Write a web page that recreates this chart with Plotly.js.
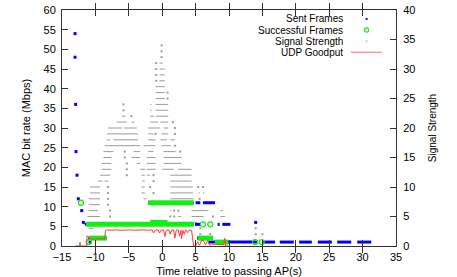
<!DOCTYPE html>
<html><head><meta charset="utf-8">
<script src="https://cdn.plot.ly/plotly-3.0.1.min.js"></script>
<style>html,body{margin:0;padding:0;background:#fff}</style>
</head><body><div id="chart" style="width:457px;height:277px"></div>
<script>
// ---------- Sent Frames (Mbps) ----------
const sentDotT = [-13.05,-13.05,-12.96,-12.9,-12.75,-12.56,-12.05,-11.8,-10.8,14.0];
const sentDotV = [54,48,36,24,18,12,9,6,1,6];
const sentSegStart = [-11.6,4.9,8.3,9.0,-2.1,5.0,6.1,-11.1,5.2,6.9,15.1,17.6,20.5,23.3,26.2,29.2];
const sentSegEnd   = [4.7,5.7,8.6,10.2,4.7,5.7,7.9,-8.3,7.6,14.3,16.9,19.7,22.4,25.4,28.3,31.3];
const sentSegRate  = [5.5,5.5,5.5,5.5,11,11,11,2,2,1,1,1,1,1,1,1];

// ---------- Successful Frames (Mbps) ----------
const succDotT = [-12.16,-11.0,6.1,7.2,13.9,14.9];
const succDotV = [11,1,5.5,5.5,1,1];
const succSegStart = [-11.4,-1.8,-2.1,-11.0,5.3,7.9];
const succSegEnd   = [4.7,0.8,4.7,-8.3,7.6,9.9];
const succSegRate  = [5.5,6,11,2,2,1];

// ---------- Signal Strength (right axis) ----------
const sigSegLevel = [31,30,29,28,27,26,25,
  24,24,23,23,22,22,22,
  21,21,21,21,20,20,20,20,
  19,19,19,18,18,18,18,18,
  17,17,17,16,16,16,16,15,15,15,15,
  14,14,14,14,13,13,13,13,13,
  12,12,12,12,11,11,11,11,
  10,10,10,9,9,9,9,9,8,8,8,7,7,
  6,6,6,6,5,5,5,5,4,4,3];
const sigSegStart = [-0.4,-0.4,-0.4,-0.4,-1.0,-1.0,-1.0,
  -1.8,-1.0,-1.8,-1.0,-6.0,-1.8,-1.0,
  -6.8,-4.6,-1.8,-0.3,-8.1,-5.7,-2.1,0.2,
  -8.3,-2.1,-0.1,-8.3,-7.3,-2.1,-0.3,1.2,
  -8.6,-2.8,-0.1,-8.8,-4.3,-2.1,0.2,-8.8,-4.6,-2.3,0.2,
  -9.1,-3.8,-2.3,0.2,-9.1,-3.3,-2.3,0.0,2.4,
  -9.3,-3.1,-2.3,1.2,-9.6,-8.6,-3.0,1.2,
  -10.8,-3.1,1.2,-10.8,-3.1,1.2,5.4,6.1,-11.0,-2.8,1.2,-11.0,1.2,
  -11.0,1.2,4.4,8.7,-11.2,2.4,4.4,8.7,-11.0,4.6,-11.0];
const sigSegEnd = [0.1,0.4,0.4,0.4,0.4,0.4,0.4,
  -1.6,0.9,-1.6,0.9,-5.5,-1.2,0.9,
  -5.3,-4.1,-0.6,0.9,-6.0,-3.8,-0.3,0.9,
  -3.6,-1.3,0.9,-7.8,-3.6,-1.0,0.7,1.9,
  -3.3,-1.0,1.3,-7.3,-3.3,-1.3,2.0,-7.6,-3.3,-1.0,2.9,
  -7.6,-3.3,-1.0,2.9,-7.6,-2.5,-1.0,1.7,4.4,
  -7.8,-2.6,-1.8,4.4,-8.9,-8.1,-2.6,4.4,
  -9.3,-2.6,4.6,-9.3,-2.6,4.6,5.6,6.3,-9.3,-2.3,4.6,-9.3,4.6,
  -9.6,1.4,6.9,9.1,-9.3,2.8,6.2,9.4,-10.0,5.2,-10.3];
const sigDotT = [-0.1,-0.1,-0.1,-0.9,-0.9,-0.9,-0.9,0.8,0.8,-5.8,-5.8,-4.6,1.6,1.9,-1.0,1.9,1.9,
  -5.6,2.7,-5.6,-5.3,-5.3,-5.3,-1.3,-1.3,-8.1,-1.8,5.4,6.1,-8.1,-1.3,-8.1,5.6,-8.1,-1.3,
  -7.8,1.8,2.4,-7.8,1.2,1.8,7.6,14.0,5.7,14.0,5.7,7.2,14.0,15.0];
const sigDotS = [34,33,32,31,30,29,28,26,25,24,23,22,21,20,19,19,17,
  16,16,15,14,13,12,12,11,10,10,10,10,9,9,8,8,7,7,
  6,6,6,5,5,5,5,4,3,3,2,2,2,2];

// ---------- UDP Goodput (Mbps) ----------
const gpT = [-13.0,-12.35,-12.3,-12.25,-11.3,-11.25,-11.0,-10.7,-10.4,-10.0,-9.5,-9.0,-8.6,-8.5,-8.3,-7.5,-7.0,-6.0,-5.0,-4.0,-3.0,-2.0,-1.5,-1.3,-1.1,-0.6,-0.4,-0.2,0.2,0.4,0.6,1.0,1.2,1.4,1.7,1.9,2.1,2.4,2.6,2.8,2.9,3.1,3.3,3.5,3.8,4.0,4.4,4.7,5.0,5.3,5.6,5.9,6.2,6.5,6.8,7.1,7.4,8.0,9.2,9.35,9.5,10.0];
const gpV = [0,0,0.9,0,0,2.6,2.1,1.8,1.6,1.8,1.9,1.8,1.9,3.9,4.1,4.0,4.1,4.0,4.1,4.0,4.1,4.0,4.1,3.3,4.0,4.1,3.3,4.0,4.1,2.4,4.0,4.1,3.0,4.0,4.1,2.0,4.0,4.1,2.5,4.0,1.9,4.0,3.0,4.1,3.4,4.0,4.0,0,0,1.1,0.2,1.5,1.3,0.3,1.4,0.2,0.5,0.4,0.3,2.0,0,0];

function segXY(s, e, v) {
  const x = [], y = [];
  for (let i = 0; i < s.length; i++) { x.push(s[i], e[i], null); y.push(v[i], v[i], null); }
  return {x, y};
}
const sigSeg = segXY(sigSegStart, sigSegEnd, sigSegLevel);
const sentSeg = segXY(sentSegStart, sentSegEnd, sentSegRate);
const succSeg = segXY(succSegStart, succSegEnd, succSegRate);

const GRAY = '#9c9c9c', BLUE = '#0000ff', GREEN = '#14ee14', RED = '#ff3a3a';
const FONT = 'Liberation Sans, Arial, sans-serif';

const traces = [
  {x: sigSeg.x, y: sigSeg.y, yaxis: 'y', mode: 'lines', line: {color: GRAY, width: 1}, showlegend: false, hoverinfo: 'skip'},
  {x: sigDotT, y: sigDotS, yaxis: 'y', mode: 'markers', marker: {color: GRAY, size: 2, symbol: 'square'}, name: 'Signal Strength', showlegend: false},
  {x: sentSeg.x, y: sentSeg.y, yaxis: 'y2', mode: 'lines', line: {color: BLUE, width: 3}, showlegend: false},
  {x: sentDotT, y: sentDotV, yaxis: 'y2', mode: 'markers', marker: {color: BLUE, size: 3, symbol: 'square'}, name: 'Sent Frames', showlegend: false},
  {x: succSeg.x, y: succSeg.y, yaxis: 'y2', mode: 'lines', line: {color: GREEN, width: 5}, showlegend: false},
  {x: succDotT, y: succDotV, yaxis: 'y2', mode: 'markers', marker: {color: GREEN, size: 5, symbol: 'circle-open', line: {width: 1.3, color: GREEN}}, name: 'Successful Frames', showlegend: false},
  {x: gpT, y: gpV, yaxis: 'y2', mode: 'lines', line: {color: RED, width: 1}, name: 'UDP Goodput', showlegend: false}
];

const axCommon = {ticks: 'inside', ticklen: 6, tickwidth: 1, tickcolor: '#333', showline: true, linecolor: '#333', linewidth: 1,
  showgrid: false, zeroline: false, tickfont: {family: FONT, size: 11, color: '#000'}};

const legendNames = ['Sent Frames', 'Successful Frames', 'Signal Strength', 'UDP Goodput'];
const legY = [0.962, 0.915, 0.868, 0.821];
const annotations = legendNames.map((t, i) => ({text: t, xref: 'paper', yref: 'paper', x: 0.845, y: legY[i],
  xanchor: 'right', yanchor: 'middle', borderpad: 0, showarrow: false, font: {family: FONT, size: 10, color: '#000'}}));
const shapes = [
  {type: 'rect', xref: 'paper', yref: 'paper', x0: 0.909, x1: 0.915, y0: legY[0]-0.004, y1: legY[0]+0.004, fillcolor: BLUE, line: {width: 0}},
  {type: 'circle', xref: 'paper', yref: 'paper', x0: 0.906, x1: 0.918, y0: legY[1]-0.009, y1: legY[1]+0.009, line: {color: GREEN, width: 1.2}},
  {type: 'rect', xref: 'paper', yref: 'paper', x0: 0.910, x1: 0.914, y0: legY[2]-0.003, y1: legY[2]+0.003, fillcolor: '#aaa', line: {width: 0}},
  {type: 'line', xref: 'paper', yref: 'paper', x0: 0.865, x1: 0.958, y0: legY[3], y1: legY[3], line: {color: '#ff6a6a', width: 1}}
];

const layout = {
  width: 457, height: 277, margin: {l: 62, r: 61, t: 10, b: 31},
  paper_bgcolor: '#fff', plot_bgcolor: '#fff', showlegend: false, hovermode: false,
  font: {family: FONT, size: 11, color: '#000'},
  xaxis: Object.assign({}, axCommon, {range: [-15, 35], tick0: -15, dtick: 5, mirror: 'allticks', ticklabelstandoff: 1,
    title: {text: 'Time relative to passing AP(s)', font: {family: FONT, size: 11}, standoff: 5}}),
  yaxis: Object.assign({}, axCommon, {side: 'right', range: [0, 40], dtick: 5, ticklabelstandoff: 4,
    title: {text: 'Signal Strength', font: {family: FONT, size: 10}, standoff: 14}}),
  yaxis2: Object.assign({}, axCommon, {overlaying: 'y', side: 'left', anchor: 'x', range: [0, 60], dtick: 5, ticklabelstandoff: 3,
    title: {text: 'MAC bit rate (Mbps)', font: {family: FONT, size: 11}, standoff: 10}}),
  annotations: annotations, shapes: shapes
};

Plotly.newPlot('chart', traces, layout, {staticPlot: true, displayModeBar: false});
</script></body></html>
